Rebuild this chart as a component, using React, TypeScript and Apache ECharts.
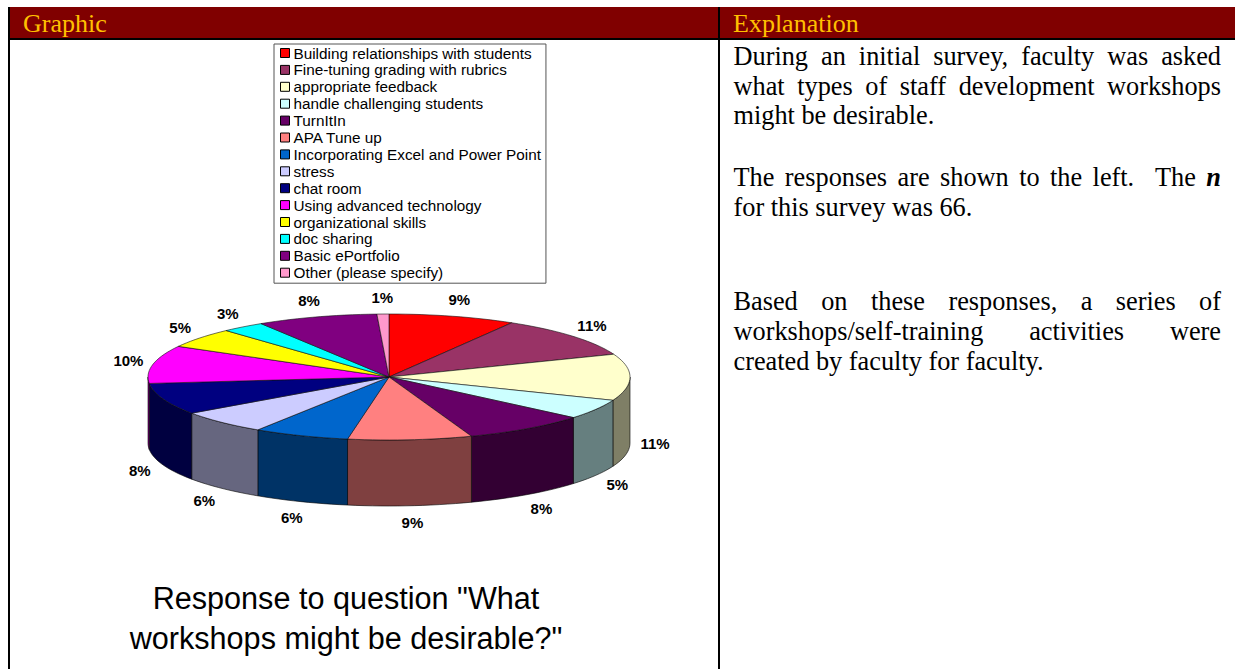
import React, { useEffect, useRef } from "react";
import * as echarts from "echarts";

// Slice names, in legend order
const categories = [
  "Building relationships with students",
  "Fine-tuning grading with rubrics",
  "appropriate feedback",
  "handle challenging students",
  "TurnItIn",
  "APA Tune up",
  "Incorporating Excel and Power Point",
  "stress",
  "chat room",
  "Using advanced technology",
  "organizational skills",
  "doc sharing",
  "Basic ePortfolio",
  "Other (please specify)",
];
// Share of the pie as drawn (estimated from the slice boundaries)
const shares = [8.5, 10.6, 11.9, 5.1, 8.3, 8.3, 6.4, 6.1, 8.1, 9.7, 5.1, 2.9, 8.1, 0.8];
// Printed percentage labels
const percentLabels = ["9%", "11%", "11%", "5%", "8%", "9%", "6%", "6%", "8%", "10%", "5%", "3%", "8%", "1%"];
const topColors = [
  "#FF0000", "#993366", "#FFFFCC", "#CCFFFF", "#660066", "#FF8080", "#0066CC",
  "#CCCCFF", "#000080", "#FF00FF", "#FFFF00", "#00FFFF", "#800080", "#FF99CC",
];
const headers = ["Graphic", "Explanation"];
const chartTitle = ['Response to question "What', 'workshops might be desirable?"'];
const explanationLines: [string, number, boolean][] = [
  ["During an initial survey, faculty was asked", 56, true],
  ["what types of staff development workshops", 86, true],
  ["might be desirable.", 115, false],
  ["The responses are shown to the left.  The n", 177, true],
  ["for this survey was 66.", 207, false],
  ["Based on these responses, a series of", 301, true],
  ["workshops/self-training activities were", 331, true],
  ["created by faculty for faculty.", 361, false],
];

const CX = 389, CY = 377, RX = 241, RY = 63, DEPTH = 66;
const total = shares.reduce((a, b) => a + b, 0);
const half = (hex: string) => {
  const n = parseInt(hex.slice(1), 16);
  return `rgb(${(n >> 16) >> 1},${((n >> 8) & 255) >> 1},${(n & 255) >> 1})`;
};
const pt = (deg: number, rx = RX, ry = RY, dy = 0): [number, number] => {
  const a = (deg * Math.PI) / 180;
  return [CX + rx * Math.sin(a), CY - ry * Math.cos(a) + dy];
};
const arc = (a0: number, a1: number, dy = 0) => {
  const out: [number, number][] = [];
  const steps = Math.max(2, Math.ceil((a1 - a0) / 2));
  for (let i = 0; i <= steps; i++) out.push(pt(a0 + ((a1 - a0) * i) / steps, RX, RY, dy));
  return out;
};

const sliceSeries = categories.map((name, idx) => {
  const start = (shares.slice(0, idx).reduce((a, b) => a + b, 0) / total) * 360;
  const end = start + (shares[idx] / total) * 360;
  return {
    type: "custom",
    name,
    coordinateSystem: "none",
    silent: true,
    itemStyle: { color: topColors[idx] },
    data: [shares[idx]],
    renderItem: () => {
      const children: any[] = [];
      const s0 = Math.max(start, 90), s1 = Math.min(end, 270);
      if (s1 > s0) {
        const topEdge = arc(s0, s1);
        const botEdge = arc(s0, s1, DEPTH).reverse();
        children.push({
          type: "polygon",
          shape: { points: [...topEdge, ...botEdge] },
          style: { fill: half(topColors[idx]), stroke: "#000", lineWidth: 0.6 },
        });
      }
      children.push({
        type: "polygon",
        shape: { points: [[CX, CY], ...arc(start, end)] },
        style: { fill: topColors[idx], stroke: "#111", lineWidth: 0.6 },
      });
      const mid = (start + end) / 2;
      const front = mid > 89 && mid < 270;
      const [lx, ly] = pt(mid, RX + 25, RY + 17, front ? DEPTH : 0);
      children.push({
        type: "text",
        x: lx,
        y: ly,
        z2: 5,
        style: {
          text: percentLabels[idx],
          fill: "#000",
          font: 'bold 15px "Liberation Sans", Arial, sans-serif',
          align: "center",
          verticalAlign: "middle",
        },
      });
      return { type: "group", children };
    },
  };
});

function wordElements() {
  const ctx = document.createElement("canvas").getContext("2d")!;
  const font = '26.3px "Liberation Serif", "Times New Roman", serif';
  const boldItalic = 'italic bold 26.3px "Liberation Serif", "Times New Roman", serif';
  const left = 733.5, right = 1221;
  const els: any[] = [];
  explanationLines.forEach(([line, y, justify]) => {
    const words = line.split(" ");
    const fontOf = (w: string) => (w === "n" ? boldItalic : font);
    const widths = words.map((w) => {
      ctx.font = fontOf(w);
      return ctx.measureText(w).width;
    });
    ctx.font = font;
    const sp = ctx.measureText(" ").width;
    const sum = widths.reduce((a, b) => a + b, 0);
    const gap = justify ? (right - left - sum) / (words.length - 1) : sp;
    let x = left;
    words.forEach((w, i) => {
      if (w) {
        els.push({
          type: "text",
          x,
          y,
          style: { text: w, fill: "#000", font: fontOf(w), align: "left", verticalAlign: "middle" },
        });
      }
      x += widths[i] + gap;
    });
  });
  return els;
}

export default function App() {
  const ref = useRef<HTMLDivElement>(null);
  useEffect(() => {
    document.body.style.margin = "0";
    const chart = echarts.init(ref.current!, null, { renderer: "svg" });
    const rule = (x: number, y: number, width: number, height: number, fill: string) => ({
      type: "rect",
      shape: { x, y, width, height },
      style: { fill },
      silent: true,
    });
    const headerFont = '26px "Liberation Serif", "Times New Roman", serif';
    chart.setOption({
      animation: false,
      backgroundColor: "#fff",
      legend: {
        orient: "vertical",
        left: 274,
        top: 44,
        padding: [1.5, 5, 3, 6],
        itemGap: 1.9,
        itemWidth: 9,
        itemHeight: 9,
        icon: "rect",
        selectedMode: false,
        backgroundColor: "#fff",
        borderColor: "#555",
        borderWidth: 1,
        itemStyle: { borderColor: "#000", borderWidth: 1 },
        textStyle: {
          color: "#000",
          fontFamily: '"Liberation Sans", Arial, sans-serif',
          fontSize: 15.3,
          lineHeight: 14,
          padding: [0, 0, 0, -1],
        },
        data: categories,
      },
      series: sliceSeries,
      graphic: {
        elements: [
          rule(8, 7, 1227, 31, "#800000"),
          rule(8, 38, 1227, 2, "#000"),
          rule(8, 7, 2, 662, "#000"),
          rule(718, 7, 2, 662, "#000"),
          {
            type: "text",
            x: 23,
            y: 23,
            style: { text: headers[0], fill: "#FFC000", font: headerFont, align: "left", verticalAlign: "middle" },
          },
          {
            type: "text",
            x: 733,
            y: 23,
            style: { text: headers[1], fill: "#FFC000", font: headerFont, align: "left", verticalAlign: "middle" },
          },
          ...chartTitle.map((t, i) => ({
            type: "text",
            x: 346,
            y: 598 + i * 40,
            style: {
              text: t,
              fill: "#000",
              font: '30.6px "Liberation Sans", Arial, sans-serif',
              align: "center",
              verticalAlign: "middle",
            },
          })),
          ...wordElements(),
        ],
      },
    });
    return () => chart.dispose();
  }, []);
  return <div ref={ref} style={{ width: 1235, height: 669 }} />;
}
